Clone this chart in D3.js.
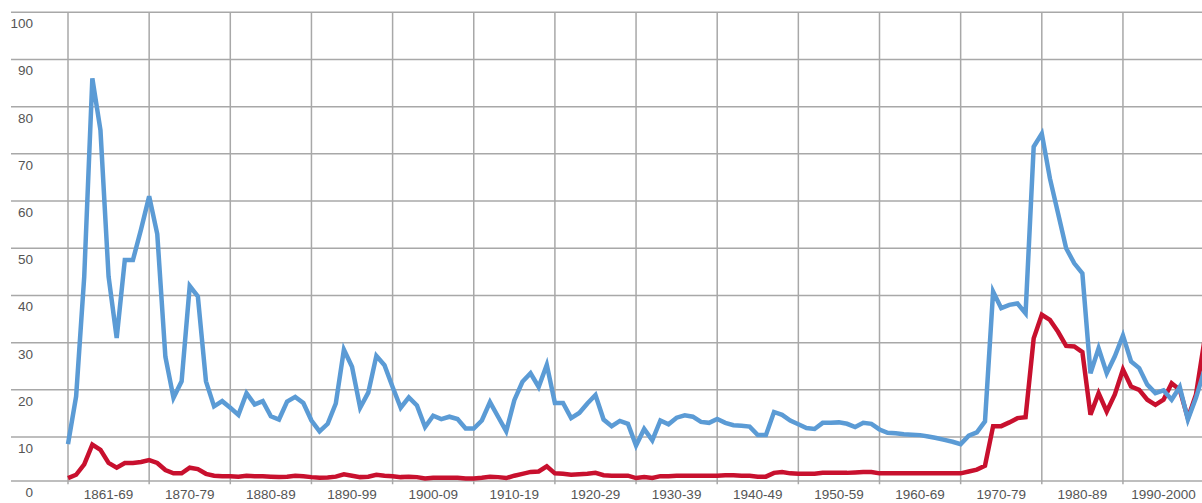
<!DOCTYPE html>
<html>
<head>
<meta charset="utf-8">
<script src="https://cdn.jsdelivr.net/npm/d3@7"></script>
<style>
	body { margin: 0; background: #fff; }
	text { font-family: "Liberation Sans", Arial, sans-serif; }
</style>
</head>
<body>
<div id="chart"></div>
<script>
var years = d3.range(1860, 2001);

var blueSeries = [
	8.5, 18.6, 44, 86, 75, 44, 31, 47.5, 47.5, 54,
	61, 53, 27, 18.3, 21.8, 42, 39.8, 21.8, 16.5, 17.6,
	16.2, 14.7, 19.3, 16.9, 17.6, 14.4, 13.7, 17.5, 18.5, 17.2,
	13.5, 11.2, 12.8, 17.1, 28.5, 24.9, 16.2, 19.4, 27.2, 25.2,
	20.6, 16.2, 18.4, 16.7, 12.1, 14.5, 13.8, 14.3, 13.8, 11.8,
	11.8, 13.5, 17.4, 14.3, 11.2, 17.8, 21.7, 23.5, 20.6, 25.3,
	17.2, 17.2, 14.0, 15.1, 17.1, 18.9, 13.7, 12.3, 13.4, 12.8,
	8.2, 11.7, 9.3, 13.5, 12.7, 14.1, 14.6, 14.3, 13.2, 13.0,
	13.8, 13.0, 12.5, 12.4, 12.2, 10.4, 10.4, 15.3, 14.7, 13.5,
	12.7, 11.9, 11.7, 13.0, 13.0, 13.1, 12.8, 12.1, 13.0, 12.8,
	11.6, 10.9, 10.8, 10.6, 10.5, 10.4, 10.1, 9.8, 9.4, 9.0,
	8.5, 10.3, 11.0, 13.3, 40.8, 37.3, 38.0, 38.3, 36.2, 71.5,
	74.3, 64.8, 57.4, 50.0, 46.8, 44.7, 23.5, 28.8, 23.5, 27.1,
	31.5, 26.0, 24.6, 21.1, 19.3, 19.9, 17.9, 20.6, 13.7, 18.3,
	24
];

var redSeries = [
	1.3, 2.0, 4.2, 8.4, 7.3, 4.5, 3.5, 4.5, 4.5, 4.7,
	5.1, 4.5, 3.0, 2.3, 2.3, 3.5, 3.2, 2.2, 1.8, 1.7,
	1.7, 1.6, 1.8, 1.7, 1.7, 1.6, 1.5, 1.6, 1.8, 1.7,
	1.5, 1.35, 1.4, 1.6, 2.1, 1.8, 1.5, 1.6, 2.0, 1.8,
	1.7, 1.5, 1.6, 1.5, 1.2, 1.35, 1.35, 1.35, 1.35, 1.2,
	1.2, 1.35, 1.6, 1.5, 1.3, 1.8, 2.2, 2.6, 2.7, 3.8,
	2.3, 2.2, 2.0, 2.1, 2.2, 2.4, 1.9, 1.8, 1.8, 1.8,
	1.3, 1.5, 1.3, 1.7, 1.7, 1.8, 1.8, 1.8, 1.8, 1.8,
	1.8, 1.9, 1.9, 1.8, 1.8, 1.6, 1.6, 2.4, 2.6, 2.3,
	2.2, 2.2, 2.2, 2.4, 2.4, 2.4, 2.4, 2.5, 2.6, 2.6,
	2.3, 2.3, 2.3, 2.3, 2.3, 2.3, 2.3, 2.3, 2.3, 2.3,
	2.3, 2.7, 3.1, 3.9, 12.3, 12.3, 13.1, 14.0, 14.2, 30.9,
	35.9, 34.8, 32.3, 29.3, 29.2, 28.0, 14.7, 19.3, 15.4, 19.0,
	24.3, 20.7, 20.0, 17.9, 16.8, 17.9, 21.4, 20.0, 14.0, 19.0,
	30
];

var decadeStarts = [1860, 1870, 1880, 1890, 1900, 1910, 1920, 1930, 1940, 1950, 1960, 1970, 1980, 1990];
var decadeLabels = ["1861-69", "1870-79", "1880-89", "1890-99", "1900-09", "1910-19", "1920-29",
	"1930-39", "1940-49", "1950-59", "1960-69", "1970-79", "1980-89", "1990-2000"];
var yTicks = [0, 10, 20, 30, 40, 50, 60, 70, 80, 90, 100];

var width = 1202, height = 503;

var svg = d3.select("#chart").append("svg")
	.attr("width", width)
	.attr("height", height);

var xScale = d3.scaleLinear()
	.domain([1860, 2000])
	.range([68, 1204.1]);
var yScale = d3.scaleLinear()
	.domain([0, 100])
	.range([484.2, 12.3]);

// horizontal grid (the bottom line sits a little above the true zero)
svg.selectAll(".hgrid")
	.data(yTicks)
	.enter()
	.append("line")
	.attr("class", "hgrid")
	.attr("x1", 11)
	.attr("x2", width)
	.attr("y1", function(d){ return d == 0 ? 481 : yScale(d); })
	.attr("y2", function(d){ return d == 0 ? 481 : yScale(d); })
	.attr("stroke", "#a8a8a8")
	.attr("stroke-width", 1.5);

svg.selectAll(".vgrid")
	.data(decadeStarts)
	.enter()
	.append("line")
	.attr("class", "vgrid")
	.attr("x1", function(d){ return xScale(d); })
	.attr("x2", function(d){ return xScale(d); })
	.attr("y1", yScale(100))
	.attr("y2", yScale(0))
	.attr("stroke", "#a8a8a8")
	.attr("stroke-width", 1.5);

svg.selectAll(".ylab")
	.data(yTicks)
	.enter()
	.append("text")
	.attr("class", "ylab")
	.attr("x", 33)
	.attr("y", function(d){ return (d == 0 ? 481 : yScale(d)) + 16; })
	.attr("text-anchor", "end")
	.attr("font-size", "13.5px")
	.attr("fill", "#555")
	.text(function(d){ return d; });

svg.selectAll(".xlab")
	.data(decadeStarts)
	.enter()
	.append("text")
	.attr("class", "xlab")
	.attr("x", function(d){ return xScale(d + 5); })
	.attr("y", 499)
	.attr("text-anchor", "middle")
	.attr("font-size", "13.5px")
	.attr("fill", "#555")
	.text(function(d, i){ return decadeLabels[i]; });

var line = d3.line()
	.x(function(d){ return xScale(d.year); })
	.y(function(d){ return yScale(d.value); });

var redData = years.map(function(y, i){ return {year: y, value: redSeries[i]}; });
var blueData = years.map(function(y, i){ return {year: y, value: blueSeries[i]}; });

svg.append("path")
	.datum(redData)
	.attr("d", line)
	.attr("fill", "none")
	.attr("stroke", "#c8102e")
	.attr("stroke-width", 4.5);

svg.append("path")
	.datum(blueData)
	.attr("d", line)
	.attr("fill", "none")
	.attr("stroke", "#5b9bd5")
	.attr("stroke-width", 4.5);
</script>
</body>
</html>
